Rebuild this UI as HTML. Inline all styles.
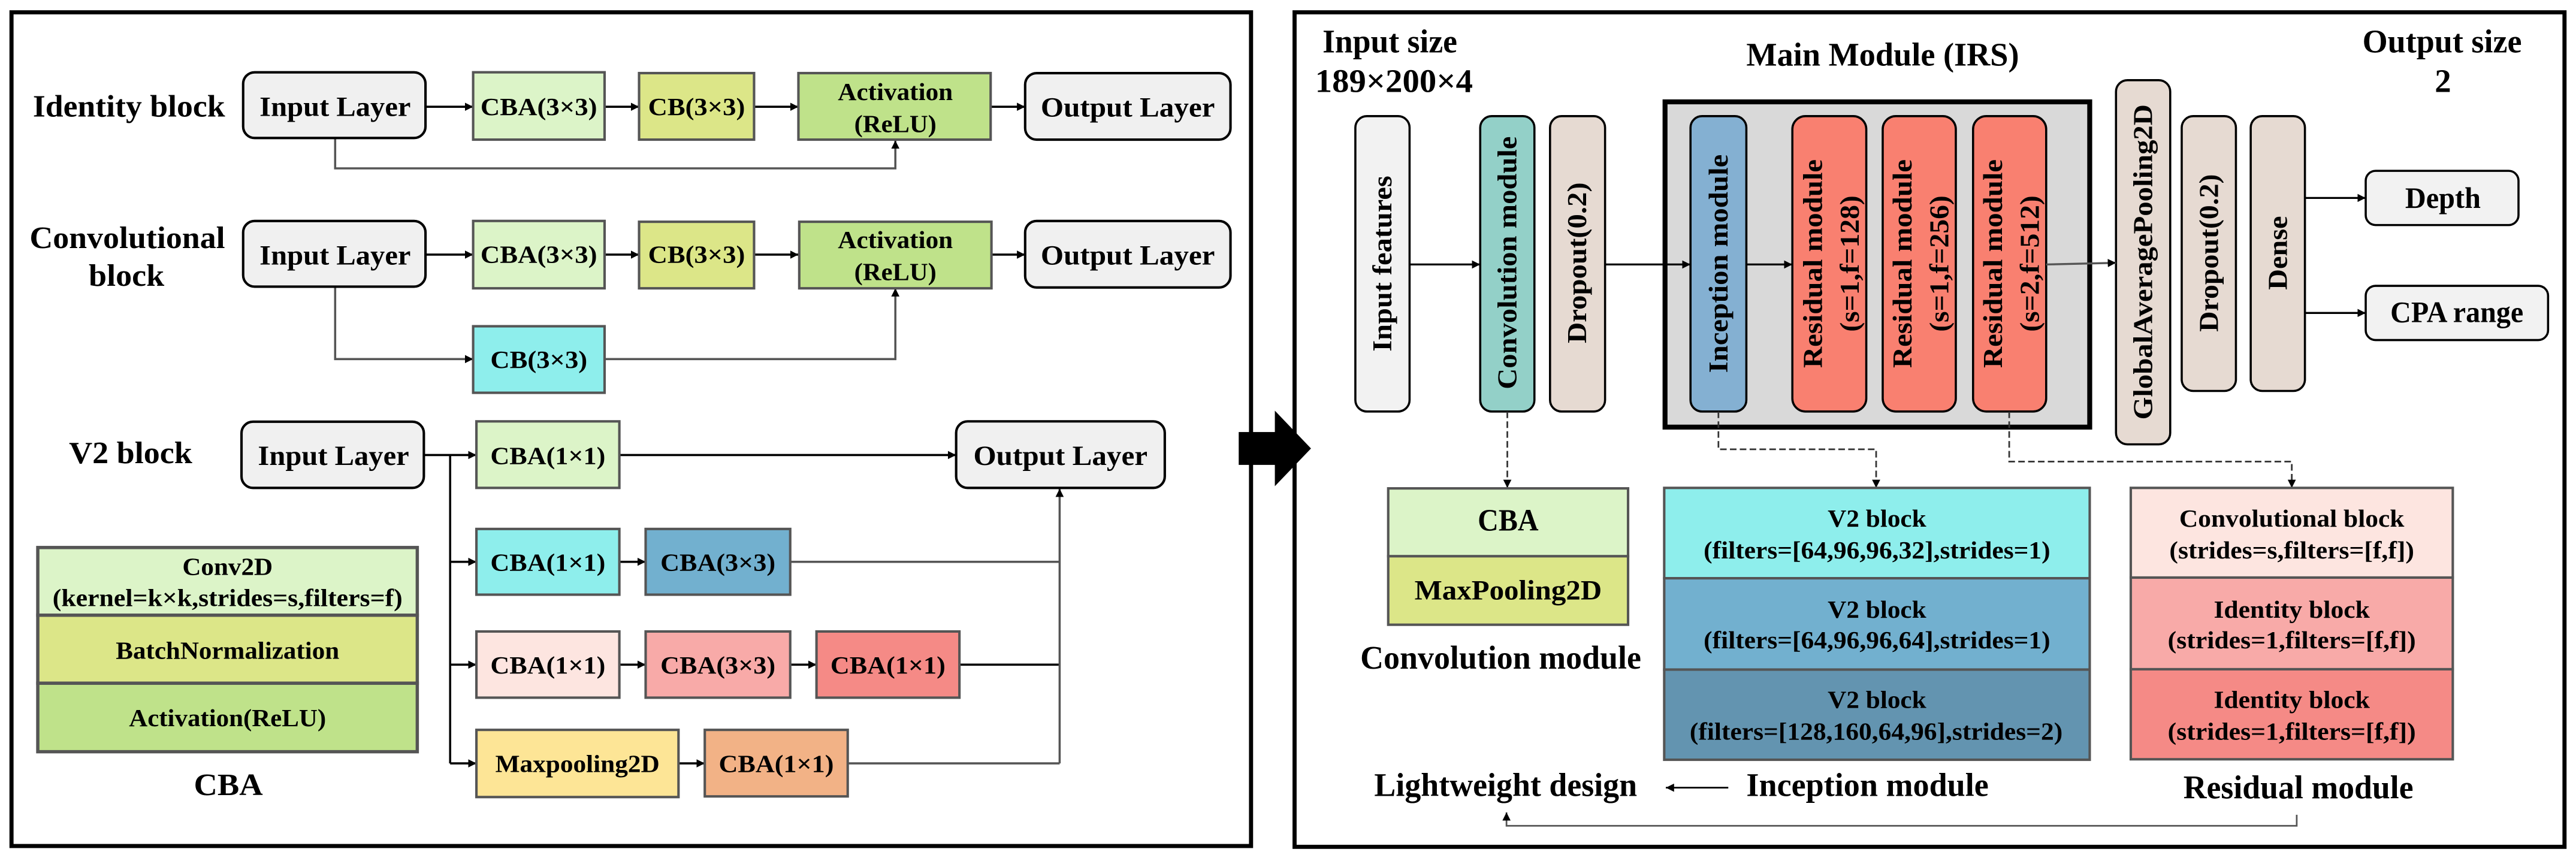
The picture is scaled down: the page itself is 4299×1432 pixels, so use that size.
<!DOCTYPE html>
<html><head><meta charset="utf-8"><style>
html,body{margin:0;padding:0;background:#fff;}
svg{display:block;}
text{font-family:"Liberation Serif",serif;font-weight:bold;fill:#000;}
</style></head><body>
<svg width="4299" height="1432" viewBox="0 0 1568 522.3" preserveAspectRatio="none" xmlns="http://www.w3.org/2000/svg">
<defs>
<marker id="a" viewBox="0 0 10 10" refX="10" refY="5" markerWidth="5" markerHeight="5" orient="auto" markerUnits="userSpaceOnUse"><path d="M0,0L10,5L0,10z" fill="#000"/></marker>
</defs>
<rect width="1568" height="522.3" fill="#fff"/>
<rect x="7" y="7.5" width="754.5" height="507.5" fill="none" stroke="#000" stroke-width="2.5"/>
<g font-size="19">
<text x="20" y="71" textLength="117" lengthAdjust="spacingAndGlyphs">Identity block</text>
<text x="18" y="151" textLength="119" lengthAdjust="spacingAndGlyphs">Convolutional</text>
<text x="54" y="174" textLength="46" lengthAdjust="spacingAndGlyphs">block</text>
<text x="42" y="282" textLength="75" lengthAdjust="spacingAndGlyphs">V2 block</text>
<text x="118" y="484" textLength="42" lengthAdjust="spacingAndGlyphs">CBA</text>
</g>
<g stroke-width="1.3" fill="none">
<line x1="259" y1="65" x2="288" y2="65" stroke="#000" marker-end="url(#a)"/>
<line x1="368" y1="65" x2="389" y2="65" stroke="#000" marker-end="url(#a)"/>
<line x1="459" y1="65" x2="486" y2="65" stroke="#000" marker-end="url(#a)"/>
<line x1="603" y1="65" x2="624" y2="65" stroke="#000" marker-end="url(#a)"/>
<polyline points="204,84 204,102.5 545,102.5 545,85.5" stroke="#555" marker-end="url(#a)"/>
<line x1="259" y1="155" x2="288" y2="155" stroke="#000" marker-end="url(#a)"/>
<line x1="368" y1="155" x2="389" y2="155" stroke="#000" marker-end="url(#a)"/>
<line x1="459" y1="155" x2="486" y2="155" stroke="#000" marker-end="url(#a)"/>
<line x1="603" y1="155" x2="624" y2="155" stroke="#000" marker-end="url(#a)"/>
<polyline points="204,175 204,218.6 288,218.6" stroke="#555" marker-end="url(#a)"/>
<polyline points="368,218.6 545,218.6 545,175.5" stroke="#555" marker-end="url(#a)"/>
<line x1="258" y1="277" x2="290" y2="277" stroke="#000" marker-end="url(#a)"/>
<line x1="377" y1="277" x2="582" y2="277" stroke="#000" marker-end="url(#a)"/>
<line x1="274" y1="277" x2="274" y2="464.7" stroke="#000"/>
<line x1="274" y1="342" x2="290" y2="342" stroke="#000" marker-end="url(#a)"/>
<line x1="274" y1="404.6" x2="290" y2="404.6" stroke="#000" marker-end="url(#a)"/>
<line x1="274" y1="464.7" x2="290" y2="464.7" stroke="#000" marker-end="url(#a)"/>
<line x1="377" y1="342" x2="393" y2="342" stroke="#000" marker-end="url(#a)"/>
<line x1="377" y1="404.6" x2="393" y2="404.6" stroke="#000" marker-end="url(#a)"/>
<line x1="481" y1="404.6" x2="497" y2="404.6" stroke="#000" marker-end="url(#a)"/>
<line x1="413" y1="464.7" x2="429" y2="464.7" stroke="#000" marker-end="url(#a)"/>
<line x1="481" y1="342" x2="645" y2="342" stroke="#555"/>
<line x1="584" y1="404.6" x2="645" y2="404.6" stroke="#000"/>
<line x1="516" y1="464.7" x2="645" y2="464.7" stroke="#555"/>
<line x1="645" y1="464.7" x2="645" y2="297.5" stroke="#555" marker-end="url(#a)"/>
</g>
<g stroke-width="1.5">
<rect x="148" y="44" width="111" height="40" rx="7" fill="#f0f0f0" stroke="#000"/>
<rect x="288" y="44" width="80" height="41" fill="#dcf4c8" stroke="#555"/>
<rect x="389" y="44.5" width="70" height="40.5" fill="#dce688" stroke="#555"/>
<rect x="486" y="44.5" width="117" height="40.5" fill="#bfe28a" stroke="#555"/>
<rect x="624" y="44.5" width="125" height="40.5" rx="7" fill="#f0f0f0" stroke="#000"/>
<rect x="148" y="134.5" width="111" height="40" rx="7" fill="#f0f0f0" stroke="#000"/>
<rect x="288" y="134.5" width="80" height="41" fill="#dcf4c8" stroke="#555"/>
<rect x="389" y="135" width="70" height="40.5" fill="#dce688" stroke="#555"/>
<rect x="486.5" y="135" width="117" height="40.5" fill="#bfe28a" stroke="#555"/>
<rect x="624" y="134.5" width="125" height="40.5" rx="7" fill="#f0f0f0" stroke="#000"/>
<rect x="288" y="198.6" width="80" height="40.5" fill="#8eeeec" stroke="#555"/>
<rect x="147" y="256.7" width="111" height="40.3" rx="7" fill="#f0f0f0" stroke="#000"/>
<rect x="290" y="256.5" width="87" height="40.5" fill="#dcf4c8" stroke="#555"/>
<rect x="582" y="256.5" width="127" height="40.5" rx="7" fill="#f0f0f0" stroke="#000"/>
<rect x="290" y="322" width="87" height="40" fill="#8eeeec" stroke="#555"/>
<rect x="393" y="322" width="88" height="40" fill="#72b0cf" stroke="#555"/>
<rect x="290" y="384.4" width="87" height="40.3" fill="#fde5e0" stroke="#555"/>
<rect x="393" y="384.4" width="88" height="40.3" fill="#f8aaa8" stroke="#555"/>
<rect x="497" y="384.4" width="87" height="40.3" fill="#f58a86" stroke="#555"/>
<rect x="290" y="444.3" width="123" height="40.9" fill="#fde596" stroke="#555"/>
<rect x="429" y="444.3" width="87" height="40.5" fill="#f2b286" stroke="#555"/>
<rect x="23" y="333.3" width="231" height="41.2" fill="#dcf4c8" stroke="#555" stroke-width="2"/>
<rect x="23" y="374.5" width="231" height="41.4" fill="#dce688" stroke="#555" stroke-width="2"/>
<rect x="23" y="415.9" width="231" height="41.7" fill="#bfe28a" stroke="#555" stroke-width="2"/>
</g>
<g font-size="17" text-anchor="middle">
<text x="204" y="70.5" textLength="92" lengthAdjust="spacingAndGlyphs">Input Layer</text>
<text x="686.5" y="71" textLength="106" lengthAdjust="spacingAndGlyphs">Output Layer</text>
<text x="204" y="161" textLength="92" lengthAdjust="spacingAndGlyphs">Input Layer</text>
<text x="686.5" y="161" textLength="106" lengthAdjust="spacingAndGlyphs">Output Layer</text>
<text x="203" y="283" textLength="92" lengthAdjust="spacingAndGlyphs">Input Layer</text>
<text x="645.5" y="283" textLength="106" lengthAdjust="spacingAndGlyphs">Output Layer</text>
</g>
<g font-size="15" text-anchor="middle">
<text x="328" y="70" textLength="71" lengthAdjust="spacingAndGlyphs">CBA(3×3)</text>
<text x="424" y="70" textLength="59" lengthAdjust="spacingAndGlyphs">CB(3×3)</text>
<text x="545" y="61" textLength="70" lengthAdjust="spacingAndGlyphs">Activation</text>
<text x="545" y="80.5" textLength="50" lengthAdjust="spacingAndGlyphs">(ReLU)</text>
<text x="328" y="160" textLength="71" lengthAdjust="spacingAndGlyphs">CBA(3×3)</text>
<text x="424" y="160" textLength="59" lengthAdjust="spacingAndGlyphs">CB(3×3)</text>
<text x="545" y="151" textLength="70" lengthAdjust="spacingAndGlyphs">Activation</text>
<text x="545" y="170.5" textLength="50" lengthAdjust="spacingAndGlyphs">(ReLU)</text>
<text x="328" y="224" textLength="59" lengthAdjust="spacingAndGlyphs">CB(3×3)</text>
<text x="333.5" y="282.5" textLength="70" lengthAdjust="spacingAndGlyphs">CBA(1×1)</text>
<text x="333.5" y="347.5" textLength="70" lengthAdjust="spacingAndGlyphs">CBA(1×1)</text>
<text x="437" y="347.5" textLength="70" lengthAdjust="spacingAndGlyphs">CBA(3×3)</text>
<text x="333.5" y="410" textLength="70" lengthAdjust="spacingAndGlyphs">CBA(1×1)</text>
<text x="437" y="410" textLength="70" lengthAdjust="spacingAndGlyphs">CBA(3×3)</text>
<text x="540.5" y="410" textLength="70" lengthAdjust="spacingAndGlyphs">CBA(1×1)</text>
<text x="351.5" y="470" textLength="100" lengthAdjust="spacingAndGlyphs">Maxpooling2D</text>
<text x="472.5" y="470" textLength="70" lengthAdjust="spacingAndGlyphs">CBA(1×1)</text>
<text x="138.5" y="350" textLength="55" lengthAdjust="spacingAndGlyphs">Conv2D</text>
<text x="138.5" y="369" textLength="213" lengthAdjust="spacingAndGlyphs">(kernel=k×k,strides=s,filters=f)</text>
<text x="138.5" y="401" textLength="136" lengthAdjust="spacingAndGlyphs">BatchNormalization</text>
<text x="138.5" y="442" textLength="120" lengthAdjust="spacingAndGlyphs">Activation(ReLU)</text>
</g>
<rect x="754" y="263" width="24" height="20" fill="#000"/>
<path d="M776,250 L798,273 L776,296 Z" fill="#000"/>
<rect x="788" y="7.5" width="773" height="508" fill="none" stroke="#000" stroke-width="2.5"/>
<g font-size="20">
<text x="805" y="32" textLength="82" lengthAdjust="spacingAndGlyphs">Input size</text>
<text x="800.5" y="56" textLength="96" lengthAdjust="spacingAndGlyphs">189×200×4</text>
<text x="1063" y="40" textLength="166" lengthAdjust="spacingAndGlyphs">Main Module (IRS)</text>
<text x="1438" y="32" textLength="97" lengthAdjust="spacingAndGlyphs">Output size</text>
<text x="1487" y="56" text-anchor="middle">2</text>
</g>
<rect x="1013.5" y="62" width="258.5" height="198" fill="#d9d9d9" stroke="#000" stroke-width="3"/>
<g stroke="#000" stroke-width="1.3">
<rect x="825" y="70.7" width="33" height="179.8" rx="7" fill="#f2f2f2"/>
<rect x="901" y="70.7" width="33" height="179.8" rx="7" fill="#93d0c8"/>
<rect x="943.5" y="70.7" width="33.5" height="179.8" rx="7" fill="#e6dad2"/>
<rect x="1029" y="70.7" width="34" height="179.8" rx="7" fill="#84b0d2"/>
<rect x="1091" y="70.7" width="45" height="179.8" rx="8" fill="#f98070"/>
<rect x="1146" y="70.7" width="44.5" height="179.8" rx="8" fill="#f98070"/>
<rect x="1201" y="70.7" width="44.5" height="179.8" rx="8" fill="#f98070"/>
<rect x="1288" y="48.8" width="33" height="221.7" rx="7" fill="#e6dad2"/>
<rect x="1328" y="70.7" width="33" height="167.3" rx="7" fill="#e6dad2"/>
<rect x="1370" y="70.7" width="33" height="167.3" rx="7" fill="#e6dad2"/>
<rect x="1440" y="104" width="93" height="33" rx="6" fill="#f2f2f2"/>
<rect x="1440" y="174" width="111" height="33" rx="6" fill="#f2f2f2"/>
</g>
<g font-size="16.5" text-anchor="middle">
<g transform="translate(841.5,160.5) rotate(-90)"><text x="0" y="5.5" textLength="107" lengthAdjust="spacingAndGlyphs">Input features</text></g>
<g transform="translate(917.5,160) rotate(-90)"><text x="0" y="5.5" textLength="154" lengthAdjust="spacingAndGlyphs">Convolution module</text></g>
<g transform="translate(960,160) rotate(-90)"><text x="0" y="5.5" textLength="98" lengthAdjust="spacingAndGlyphs">Dropout(0.2)</text></g>
<g transform="translate(1046,160.5) rotate(-90)"><text x="0" y="5.5" textLength="133" lengthAdjust="spacingAndGlyphs">Inception module</text></g>
<g transform="translate(1113.5,160.5) rotate(-90)"><text x="0" y="-4.5" textLength="127" lengthAdjust="spacingAndGlyphs">Residual module</text><text x="0" y="18" textLength="83" lengthAdjust="spacingAndGlyphs">(s=1,f=128)</text></g>
<g transform="translate(1168,160.5) rotate(-90)"><text x="0" y="-4.5" textLength="127" lengthAdjust="spacingAndGlyphs">Residual module</text><text x="0" y="18" textLength="83" lengthAdjust="spacingAndGlyphs">(s=1,f=256)</text></g>
<g transform="translate(1223,160.5) rotate(-90)"><text x="0" y="-4.5" textLength="127" lengthAdjust="spacingAndGlyphs">Residual module</text><text x="0" y="18" textLength="83" lengthAdjust="spacingAndGlyphs">(s=2,f=512)</text></g>
<g transform="translate(1304.5,159.5) rotate(-90)"><text x="0" y="5.5" textLength="192" lengthAdjust="spacingAndGlyphs">GlobalAveragePooling2D</text></g>
<g transform="translate(1344.5,154) rotate(-90)"><text x="0" y="5.5" textLength="96" lengthAdjust="spacingAndGlyphs">Dropout(0.2)</text></g>
<g transform="translate(1386.5,154) rotate(-90)"><text x="0" y="5.5" textLength="45" lengthAdjust="spacingAndGlyphs">Dense</text></g>
</g>
<g font-size="18" text-anchor="middle">
<text x="1487" y="126.5" textLength="46" lengthAdjust="spacingAndGlyphs">Depth</text>
<text x="1495.5" y="196" textLength="81" lengthAdjust="spacingAndGlyphs">CPA range</text>
</g>
<g stroke="#000" stroke-width="1.2" fill="none">
<line x1="858" y1="161" x2="901" y2="161" marker-end="url(#a)"/>
<line x1="977" y1="161" x2="1029" y2="161" marker-end="url(#a)"/>
<line x1="1063" y1="161" x2="1091" y2="161" marker-end="url(#a)"/>
<line x1="1245.5" y1="161" x2="1288" y2="160" stroke="#555" marker-end="url(#a)"/>
<line x1="1403" y1="120.5" x2="1440" y2="120.5" marker-end="url(#a)"/>
<line x1="1403" y1="190.5" x2="1440" y2="190.5" marker-end="url(#a)"/>
</g>
<g stroke="#333" stroke-width="1" fill="none" stroke-dasharray="4,2">
<polyline points="917.5,250.5 917.5,297" marker-end="url(#a)"/>
<polyline points="1046,250.5 1046,273.5 1142,273.5 1142,297" marker-end="url(#a)"/>
<polyline points="1223,250.5 1223,281 1395,281 1395,297" marker-end="url(#a)"/>
</g>
<g stroke="#555" stroke-width="1.5">
<rect x="845" y="297.3" width="146" height="41.3" fill="#dcf4c8"/>
<rect x="845" y="338.6" width="146" height="41.7" fill="#dce688"/>
<rect x="1013" y="297" width="259" height="55" fill="#8eeeec"/>
<rect x="1013" y="352" width="259" height="55.6" fill="#72b0cf"/>
<rect x="1013" y="407.6" width="259" height="54.9" fill="#6394b0"/>
<rect x="1297" y="297" width="196" height="54.6" fill="#fde5e0"/>
<rect x="1297" y="351.6" width="196" height="55.8" fill="#f8aaa8"/>
<rect x="1297" y="407.4" width="196" height="54.8" fill="#f58a86"/>
</g>
<g font-size="15" text-anchor="middle">
<text x="918" y="323" font-size="19" textLength="37" lengthAdjust="spacingAndGlyphs">CBA</text>
<text x="918" y="365" font-size="17" textLength="114" lengthAdjust="spacingAndGlyphs">MaxPooling2D</text>
<text x="1142.5" y="320.6" textLength="60" lengthAdjust="spacingAndGlyphs">V2 block</text>
<text x="1142.5" y="340" textLength="211" lengthAdjust="spacingAndGlyphs">(filters=[64,96,96,32],strides=1)</text>
<text x="1142.5" y="376" textLength="60" lengthAdjust="spacingAndGlyphs">V2 block</text>
<text x="1142.5" y="394.7" textLength="211" lengthAdjust="spacingAndGlyphs">(filters=[64,96,96,64],strides=1)</text>
<text x="1142.5" y="430.9" textLength="60" lengthAdjust="spacingAndGlyphs">V2 block</text>
<text x="1142" y="450.2" textLength="227" lengthAdjust="spacingAndGlyphs">(filters=[128,160,64,96],strides=2)</text>
<text x="1395" y="320.6" textLength="137" lengthAdjust="spacingAndGlyphs">Convolutional block</text>
<text x="1395" y="340" textLength="149" lengthAdjust="spacingAndGlyphs">(strides=s,filters=[f,f])</text>
<text x="1395" y="376" textLength="95" lengthAdjust="spacingAndGlyphs">Identity block</text>
<text x="1395" y="394.7" textLength="151" lengthAdjust="spacingAndGlyphs">(strides=1,filters=[f,f])</text>
<text x="1395" y="430.9" textLength="95" lengthAdjust="spacingAndGlyphs">Identity block</text>
<text x="1395" y="450.2" textLength="151" lengthAdjust="spacingAndGlyphs">(strides=1,filters=[f,f])</text>
</g>
<g font-size="20">
<text x="828" y="407" textLength="171" lengthAdjust="spacingAndGlyphs">Convolution module</text>
<text x="836.5" y="484.5" textLength="160" lengthAdjust="spacingAndGlyphs">Lightweight design</text>
<text x="1063" y="484.5" textLength="147.5" lengthAdjust="spacingAndGlyphs">Inception module</text>
<text x="1329" y="486" textLength="140" lengthAdjust="spacingAndGlyphs">Residual module</text>
</g>
<g stroke="#000" stroke-width="1" fill="none">
<line x1="1052" y1="479.5" x2="1014" y2="479.5" marker-end="url(#a)"/>
<polyline points="1398,496 1398,502.7 917,502.7 917,494.5" stroke="#555" marker-end="url(#a)"/>
</g>
</svg>
</body></html>
